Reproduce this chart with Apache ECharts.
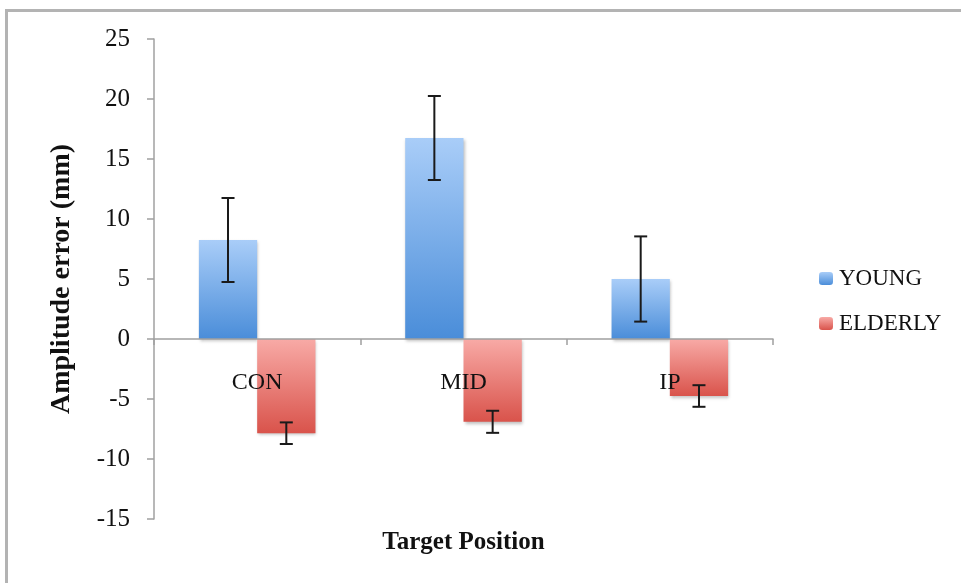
<!DOCTYPE html>
<html>
<head>
<meta charset="utf-8">
<script src="https://cdn.jsdelivr.net/npm/echarts@6/dist/echarts.min.js"></script>
<style>html,body{margin:0;padding:0;background:#fff;}#c{width:961px;height:583px;}</style>
</head>
<body>
<div id="c"></div>
<script>
var categories = ['CON', 'MID', 'IP'];
var seriesNames = ['YOUNG', 'ELDERLY'];
var youngValues = [8.25, 16.75, 5.0];
var youngErrors = [3.5, 3.5, 3.55];
var elderlyValues = [-7.85, -6.9, -4.75];
var elderlyErrors = [0.9, 0.92, 0.9];
var yTicks = [-15, -10, -5, 0, 5, 10, 15, 20, 25];

var FONT = 'Liberation Serif';
var chart = echarts.init(document.getElementById('c'));

function errorData(values, errors) {
  return values.map(function (v, i) { return [i, v - errors[i], v + errors[i]]; });
}
function makeErrorSeries(name, values, errors, idx) {
  return {
    type: 'custom',
    name: name + ' error',
    z: 5,
    data: errorData(values, errors),
    renderItem: function (params, api) {
      var ci = api.value(0);
      var lo = api.coord([ci, api.value(1)]);
      var hi = api.coord([ci, api.value(2)]);
      var band = api.size([1, 0])[0];
      var barW = band * (1 - 0.435) / 2;
      var x = lo[0] + (idx - 0.5) * barW;
      var cap = 6.5;
      var st = { stroke: '#1a1a1a', lineWidth: 2 };
      return {
        type: 'group',
        children: [
          { type: 'line', shape: { x1: x, y1: hi[1], x2: x, y2: lo[1] }, style: st },
          { type: 'line', shape: { x1: x - cap, y1: hi[1], x2: x + cap, y2: hi[1] }, style: st },
          { type: 'line', shape: { x1: x - cap, y1: lo[1], x2: x + cap, y2: lo[1] }, style: st }
        ]
      };
    }
  };
}

var blue = new echarts.graphic.LinearGradient(0, 0, 0, 1, [
  { offset: 0, color: '#a9cdf8' }, { offset: 1, color: '#4a8dd9' }
]);
var red = new echarts.graphic.LinearGradient(0, 0, 0, 1, [
  { offset: 0, color: '#f8aaa6' }, { offset: 1, color: '#d9534b' }
]);
var shadow = { shadowBlur: 3, shadowOffsetX: 1, shadowOffsetY: 2, shadowColor: 'rgba(0,0,0,0.25)' };

chart.setOption({
  animation: false,
  backgroundColor: '#fff',
  textStyle: { fontFamily: FONT },
  grid: { left: 154, right: 188, top: 39, bottom: 64, containLabel: false, outerBoundsMode: 'none' },
  legend: {
    orient: 'vertical',
    left: 814,
    top: 262,
    itemWidth: 14,
    itemHeight: 13,
    itemGap: 22,
    textStyle: { fontFamily: FONT, fontSize: 23, color: '#111', padding: [0, 0, 0, 1] },
    data: seriesNames
  },
  xAxis: {
    type: 'category',
    data: categories,
    z: 10,
    axisLine: { onZero: true, lineStyle: { color: '#a0a0a0', width: 1.5 } },
    axisTick: { show: true, length: 6, lineStyle: { color: '#a0a0a0', width: 1.5 } },
    axisLabel: { margin: -148, fontFamily: FONT, fontSize: 24, color: '#111' },
    name: 'Target Position',
    nameLocation: 'middle',
    nameGap: 11,
    nameTextStyle: { fontFamily: FONT, fontSize: 25, fontWeight: 'bold', color: '#111' }
  },
  yAxis: {
    type: 'value',
    min: -15, max: 25, interval: 5,
    splitLine: { show: false },
    axisLine: { show: true, lineStyle: { color: '#a0a0a0', width: 1.5 } },
    axisTick: { show: true, length: 7, lineStyle: { color: '#a0a0a0', width: 1.5 } },
    axisLabel: {
      margin: 24, fontFamily: FONT, fontSize: 25, color: '#111',
      customValues: yTicks
    },
    name: 'Amplitude error (mm)',
    nameLocation: 'middle',
    nameGap: 78,
    nameTextStyle: { fontFamily: FONT, fontSize: 28, fontWeight: 'bold', color: '#111' }
  },
  graphic: [
    { type: 'line', shape: { x1: 6.5, y1: 9, x2: 6.5, y2: 583 }, style: { stroke: '#b3b3b3', lineWidth: 3 }, silent: true },
    { type: 'line', shape: { x1: 5, y1: 10.5, x2: 961, y2: 10.5 }, style: { stroke: '#b3b3b3', lineWidth: 3 }, silent: true }
  ],
  series: [
    { name: 'YOUNG', type: 'bar', data: youngValues, barGap: '0%', barCategoryGap: '43.5%',
      itemStyle: Object.assign({ color: blue }, shadow) },
    { name: 'ELDERLY', type: 'bar', data: elderlyValues, barGap: '0%', barCategoryGap: '43.5%',
      itemStyle: Object.assign({ color: red }, shadow) },
    makeErrorSeries('YOUNG', youngValues, youngErrors, 0),
    makeErrorSeries('ELDERLY', elderlyValues, elderlyErrors, 1)
  ]
});
</script>
</body>
</html>
